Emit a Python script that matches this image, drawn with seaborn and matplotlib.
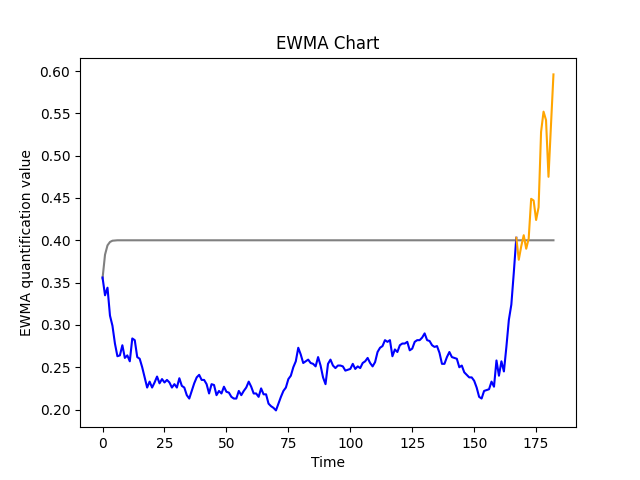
import matplotlib
matplotlib.use("Agg")
import matplotlib.pyplot as plt
import seaborn as sns
import numpy as np
import pandas as pd

# In-control EWMA values (time 0..167)
ewma_in = [
    0.356, 0.335, 0.344, 0.311, 0.299, 0.278, 0.263, 0.264, 0.276, 0.261,
    0.264, 0.257, 0.284, 0.282, 0.262, 0.260, 0.250, 0.238, 0.226, 0.233,
    0.226, 0.232, 0.239, 0.231, 0.236, 0.232, 0.235, 0.232, 0.226, 0.230,
    0.226, 0.237, 0.228, 0.226, 0.217, 0.213, 0.222, 0.231, 0.238, 0.241,
    0.235, 0.235, 0.230, 0.219, 0.230, 0.229, 0.217, 0.222, 0.219, 0.227,
    0.221, 0.220, 0.215, 0.213, 0.213, 0.222, 0.217, 0.222, 0.226, 0.233,
    0.227, 0.219, 0.219, 0.215, 0.225, 0.218, 0.218, 0.207, 0.204, 0.202,
    0.199, 0.207, 0.215, 0.222, 0.226, 0.236, 0.240, 0.250, 0.257, 0.273,
    0.265, 0.255, 0.257, 0.259, 0.255, 0.254, 0.251, 0.262, 0.252, 0.238,
    0.230, 0.254, 0.259, 0.252, 0.249, 0.252, 0.252, 0.251, 0.246, 0.247,
    0.248, 0.254, 0.248, 0.251, 0.249, 0.255, 0.257, 0.261, 0.255, 0.251,
    0.256, 0.268, 0.273, 0.275, 0.282, 0.280, 0.282, 0.263, 0.271, 0.268,
    0.276, 0.278, 0.278, 0.280, 0.270, 0.272, 0.280, 0.282, 0.282, 0.285,
    0.290, 0.282, 0.281, 0.276, 0.274, 0.275, 0.267, 0.254, 0.254, 0.262,
    0.268, 0.262, 0.261, 0.260, 0.250, 0.252, 0.244, 0.241, 0.238, 0.238,
    0.234, 0.226, 0.215, 0.213, 0.222, 0.223, 0.224, 0.233, 0.227, 0.258,
    0.240, 0.257, 0.245, 0.274, 0.306, 0.324, 0.362, 0.403,
]

# Out-of-control EWMA values (time 167..182)
ewma_out = [
    0.403, 0.377, 0.393, 0.406, 0.390, 0.402, 0.449, 0.447, 0.424, 0.439,
    0.528, 0.552, 0.542, 0.475, 0.536, 0.596,
]

# Upper control limit (time 0..182)
ucl_start = [0.355, 0.383, 0.394, 0.398, 0.3995, 0.3998]
ucl_steady = 0.400
n_total = 183

time_in = list(range(len(ewma_in)))
time_out = list(range(len(ewma_in) - 1, len(ewma_in) - 1 + len(ewma_out)))
ucl = ucl_start + [ucl_steady] * (n_total - len(ucl_start))
time_all = list(range(n_total))

df_in = pd.DataFrame({"Time": time_in, "v": ewma_in})
df_out = pd.DataFrame({"Time": time_out, "v": ewma_out})
df_ucl = pd.DataFrame({"Time": time_all, "v": ucl})

fig, ax = plt.subplots(figsize=(6.4, 4.8), dpi=100)
sns.lineplot(data=df_ucl, x="Time", y="v", color="gray", ax=ax, linewidth=1.5)
sns.lineplot(data=df_in, x="Time", y="v", color="blue", ax=ax, linewidth=1.5)
sns.lineplot(data=df_out, x="Time", y="v", color="orange", ax=ax, linewidth=1.5)

ax.set_title("EWMA Chart")
ax.set_xlabel("Time")
ax.set_ylabel("EWMA quantification value")

fig.savefig("out.png", dpi=100)
